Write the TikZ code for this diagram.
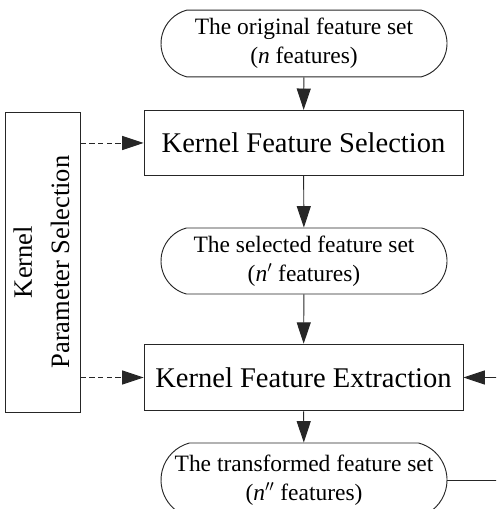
\documentclass[tikz,border=0pt]{standalone}
\usepackage{fontspec}
\setmainfont{Liberation Serif}
\usetikzlibrary{arrows.meta,shapes.misc}

\begin{document}
\begin{tikzpicture}[x=0.75pt,y=0.75pt,line width=0.7pt,draw=black!85,
    tip/.style={-{Triangle[length=16pt,width=10.5pt]}},
    terminal/.style={draw,rounded rectangle,rounded rectangle arc length=150,
      minimum width=214.5pt,minimum height=50pt,inner sep=0pt,align=center,
      font=\fontsize{17.6}{21.5}\selectfont},
    process/.style={draw,rectangle,minimum width=239.25pt,minimum height=49pt,
      inner sep=0pt,font=\fontsize{21.4}{24}\selectfont}]
                        \useasboundingbox (0,0) rectangle (496,509);
                        \clip (0,0) rectangle (496,509);

                        \node[terminal] (orig) at (304,465.5) {The original feature set\\(\textit{n} features)};
                        \node[process] (ksel) at (303.5,366) {Kernel Feature Selection};
                        \node[terminal,minimum height=49.5pt] (selset) at (304,248) {The selected feature set\\(\textit{n}$'$ features)};
                        \node[process,minimum height=50pt] (kext) at (303.5,131.5) {Kernel Feature Extraction};
                        \node[terminal,minimum height=55.5pt] (trans) at (304,29) {The transformed feature set\\(\textit{n}$''$ features)};

                        \node[draw,minimum width=51pt,minimum height=225pt,inner sep=0pt,
                              font=\fontsize{19.9}{28}\selectfont] (param) at (43,247)
                              {\rotatebox{90}{\begin{tabular}{@{}c@{}}Kernel\\Parameter Selection\end{tabular}}};

                        \coordinate (rin) at (500,131.5);
                        \coordinate (rout) at (500,29);

                        \draw[tip] (orig) -- (ksel);
                        \draw[tip] (ksel) -- (selset);
                        \draw[tip] (selset) -- (kext);
                        \draw[tip] (kext) -- (trans);
                        \draw[tip,dash pattern=on 4pt off 2.5pt] (param.east |- ksel.west) -- (ksel.west);
                        \draw[tip,dash pattern=on 4pt off 2.5pt] (param.east |- kext.west) -- (kext.west);
                        \draw[tip] (rin) -- (kext.east);
                        \draw (trans.east) -- (rout);
                    \end{tikzpicture}
\end{document}
